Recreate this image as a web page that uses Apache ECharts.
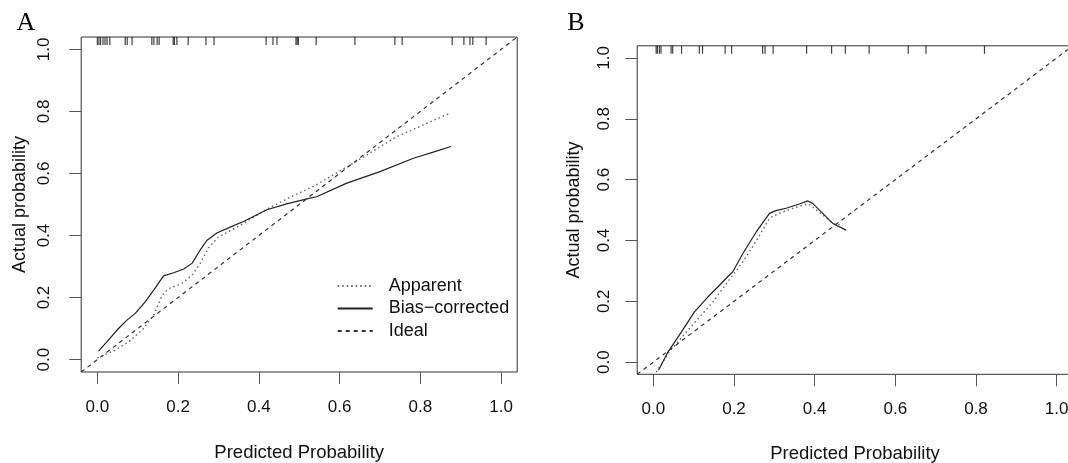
<!DOCTYPE html>
<html>
<head>
<meta charset="utf-8">
<script src="https://cdn.jsdelivr.net/npm/echarts@6/dist/echarts.min.js"></script>
<style>
html,body{margin:0;padding:0;background:#fff;}
#chart{width:1068px;height:463px;}
</style>
</head>
<body>
<div id="chart"></div>
<script>
// ---- data ----
const tickValues = [0, 0.2, 0.4, 0.6, 0.8, 1.0];
const panelLabels = ['A', 'B'];
const seriesNames = ['Apparent', 'Bias\u2212corrected', 'Ideal'];
const xTitle = 'Predicted Probability';
const yTitle = 'Actual probability';

const idealLine = [[-0.04, -0.04], [1.04, 1.04]];

const apparentA = [[0.0, 0.005], [0.045, 0.031], [0.078, 0.058], [0.111, 0.095], [0.14, 0.144],
  [0.16, 0.205], [0.175, 0.228], [0.21, 0.246], [0.235, 0.273], [0.255, 0.31], [0.275, 0.36],
  [0.30, 0.395], [0.35, 0.43], [0.42, 0.485], [0.48, 0.525], [0.535, 0.558], [0.634, 0.633],
  [0.742, 0.719], [0.876, 0.796]];
const biasA = [[0.003, 0.027], [0.024, 0.058], [0.053, 0.101], [0.074, 0.128], [0.094, 0.149],
  [0.119, 0.187], [0.14, 0.225], [0.164, 0.27], [0.189, 0.28], [0.214, 0.292], [0.235, 0.311],
  [0.255, 0.354], [0.271, 0.384], [0.296, 0.408], [0.329, 0.427], [0.362, 0.445], [0.42, 0.483],
  [0.469, 0.502], [0.519, 0.518], [0.543, 0.525], [0.618, 0.569], [0.70, 0.606], [0.783, 0.649],
  [0.832, 0.669], [0.876, 0.687]];
const rugA = [0.0, 0.004, 0.008, 0.014, 0.019, 0.024, 0.031, 0.069, 0.074, 0.086, 0.135, 0.140,
  0.148, 0.153, 0.188, 0.191, 0.197, 0.225, 0.269, 0.289, 0.418, 0.435, 0.445, 0.492, 0.495,
  0.498, 0.542, 0.638, 0.737, 0.755, 0.879, 0.908, 0.923, 0.930, 0.963];

const apparentB = [[0.007, -0.033], [0.04, 0.035], [0.064, 0.072], [0.122, 0.159], [0.151, 0.203],
  [0.172, 0.242], [0.197, 0.286], [0.222, 0.33], [0.246, 0.379], [0.271, 0.434], [0.288, 0.473],
  [0.312, 0.489], [0.346, 0.506], [0.37, 0.516], [0.385, 0.52], [0.42, 0.484], [0.445, 0.456],
  [0.47, 0.45]];
const biasB = [[0.013, -0.027], [0.036, 0.033], [0.064, 0.088], [0.102, 0.165], [0.135, 0.214],
  [0.16, 0.247], [0.18, 0.275], [0.197, 0.297], [0.222, 0.357], [0.255, 0.428], [0.288, 0.489],
  [0.304, 0.498], [0.329, 0.506], [0.362, 0.52], [0.383, 0.53], [0.395, 0.522], [0.42, 0.489],
  [0.445, 0.456], [0.478, 0.434]];
const rugB = [0.007, 0.010, 0.015, 0.019, 0.044, 0.048, 0.070, 0.114, 0.122, 0.178, 0.194, 0.271,
  0.277, 0.297, 0.380, 0.442, 0.476, 0.535, 0.632, 0.676, 0.821];

// ---- chart ----
const FONT = '"Liberation Sans", Arial, sans-serif';
const TXT = '#111';
const AX_MIN = -0.04, AX_MAX = 1.04;

function xAxis(gi, gap) {
  return {
    type: 'value', gridIndex: gi, min: AX_MIN, max: AX_MAX, position: 'bottom',
    axisLine: {show: false, onZero: false}, splitLine: {show: false},
    axisTick: {show: true, inside: false, length: 12, customValues: tickValues, lineStyle: {color: '#555', width: 1}},
    axisLabel: {customValues: tickValues, margin: 27, fontSize: 17, color: TXT, fontFamily: FONT,
      formatter: v => Number(v).toFixed(1)},
    name: xTitle, nameLocation: 'middle', nameGap: gap,
    nameTextStyle: {fontSize: 18.5, color: TXT, fontFamily: FONT}
  };
}
function yAxis(gi, margin, gap) {
  return {
    type: 'value', gridIndex: gi, min: AX_MIN, max: AX_MAX, position: 'left',
    axisLine: {show: false, onZero: false}, splitLine: {show: false},
    axisTick: {show: true, inside: false, length: 12, customValues: tickValues, lineStyle: {color: '#555', width: 1}},
    axisLabel: {customValues: tickValues, margin: margin, rotate: 90, fontSize: 17, color: TXT, fontFamily: FONT,
      formatter: v => Number(v).toFixed(1)},
    name: yTitle, nameLocation: 'middle', nameGap: gap,
    nameTextStyle: {fontSize: 18, color: TXT, fontFamily: FONT}
  };
}
function lineSeries(name, gi, data, style) {
  return {
    type: 'line', name: name, xAxisIndex: gi, yAxisIndex: gi, data: data,
    symbol: 'none', smooth: false, silent: true, animation: false,
    itemStyle: {color: style.color},
    lineStyle: style, z: 3
  };
}
function rugSeries(gi, vals) {
  return {
    type: 'scatter', xAxisIndex: gi, yAxisIndex: gi, silent: true, animation: false,
    data: vals.map(v => [v, AX_MAX]),
    symbol: 'rect', symbolSize: [1.2, 8], symbolOffset: [0, 4],
    itemStyle: {color: '#111'}, z: 4
  };
}
const apparentStyle = {color: '#666', width: 1.4, type: [1.5, 3]};
const biasStyle = {color: '#222', width: 1.2, type: 'solid'};
const idealStyle = {color: '#333', width: 1.2, type: [4, 4]};

const chart = echarts.init(document.getElementById('chart'), null, {renderer: 'canvas'});
chart.setOption({
  backgroundColor: '#fff',
  animation: false,
  grid: [
    {left: 81.2, top: 37, width: 436, height: 335, show: true, borderColor: '#333', borderWidth: 1,
      backgroundColor: 'transparent', containLabel: false, outerBoundsMode: 'none'},
    {left: 637.2, top: 45.8, width: 435.6, height: 328.5, show: true, borderColor: '#333', borderWidth: 1,
      backgroundColor: 'transparent', containLabel: false, outerBoundsMode: 'none'}
  ],
  xAxis: [xAxis(0, 71), xAxis(1, 70)],
  yAxis: [yAxis(0, 28, 52), yAxis(1, 24, 54)],
  legend: {
    data: seriesNames, orient: 'vertical', left: 336.7, top: 277, padding: 0,
    itemWidth: 35, itemHeight: 14, itemGap: 4.5, selectedMode: false,
    itemStyle: {opacity: 0},
    textStyle: {fontSize: 18, color: TXT, fontFamily: FONT, lineHeight: 17, padding: [0, 0, 0, 11]}
  },
  graphic: [
    {type: 'text', x: 26, y: 23.5, style: {text: panelLabels[0], font: '26px "Liberation Serif", "Times New Roman", serif', fill: '#000', textAlign: 'center', textVerticalAlign: 'middle'}},
    {type: 'text', x: 576, y: 23.5, style: {text: panelLabels[1], font: '26px "Liberation Serif", "Times New Roman", serif', fill: '#000', textAlign: 'center', textVerticalAlign: 'middle'}}
  ],
  series: [
    lineSeries(seriesNames[0], 0, apparentA, apparentStyle),
    lineSeries(seriesNames[1], 0, biasA, biasStyle),
    lineSeries(seriesNames[2], 0, idealLine, idealStyle),
    rugSeries(0, rugA),
    lineSeries('Apparent B', 1, apparentB, apparentStyle),
    lineSeries('Bias-corrected B', 1, biasB, biasStyle),
    lineSeries('Ideal B', 1, idealLine, idealStyle),
    rugSeries(1, rugB)
  ]
});
</script>
</body>
</html>
